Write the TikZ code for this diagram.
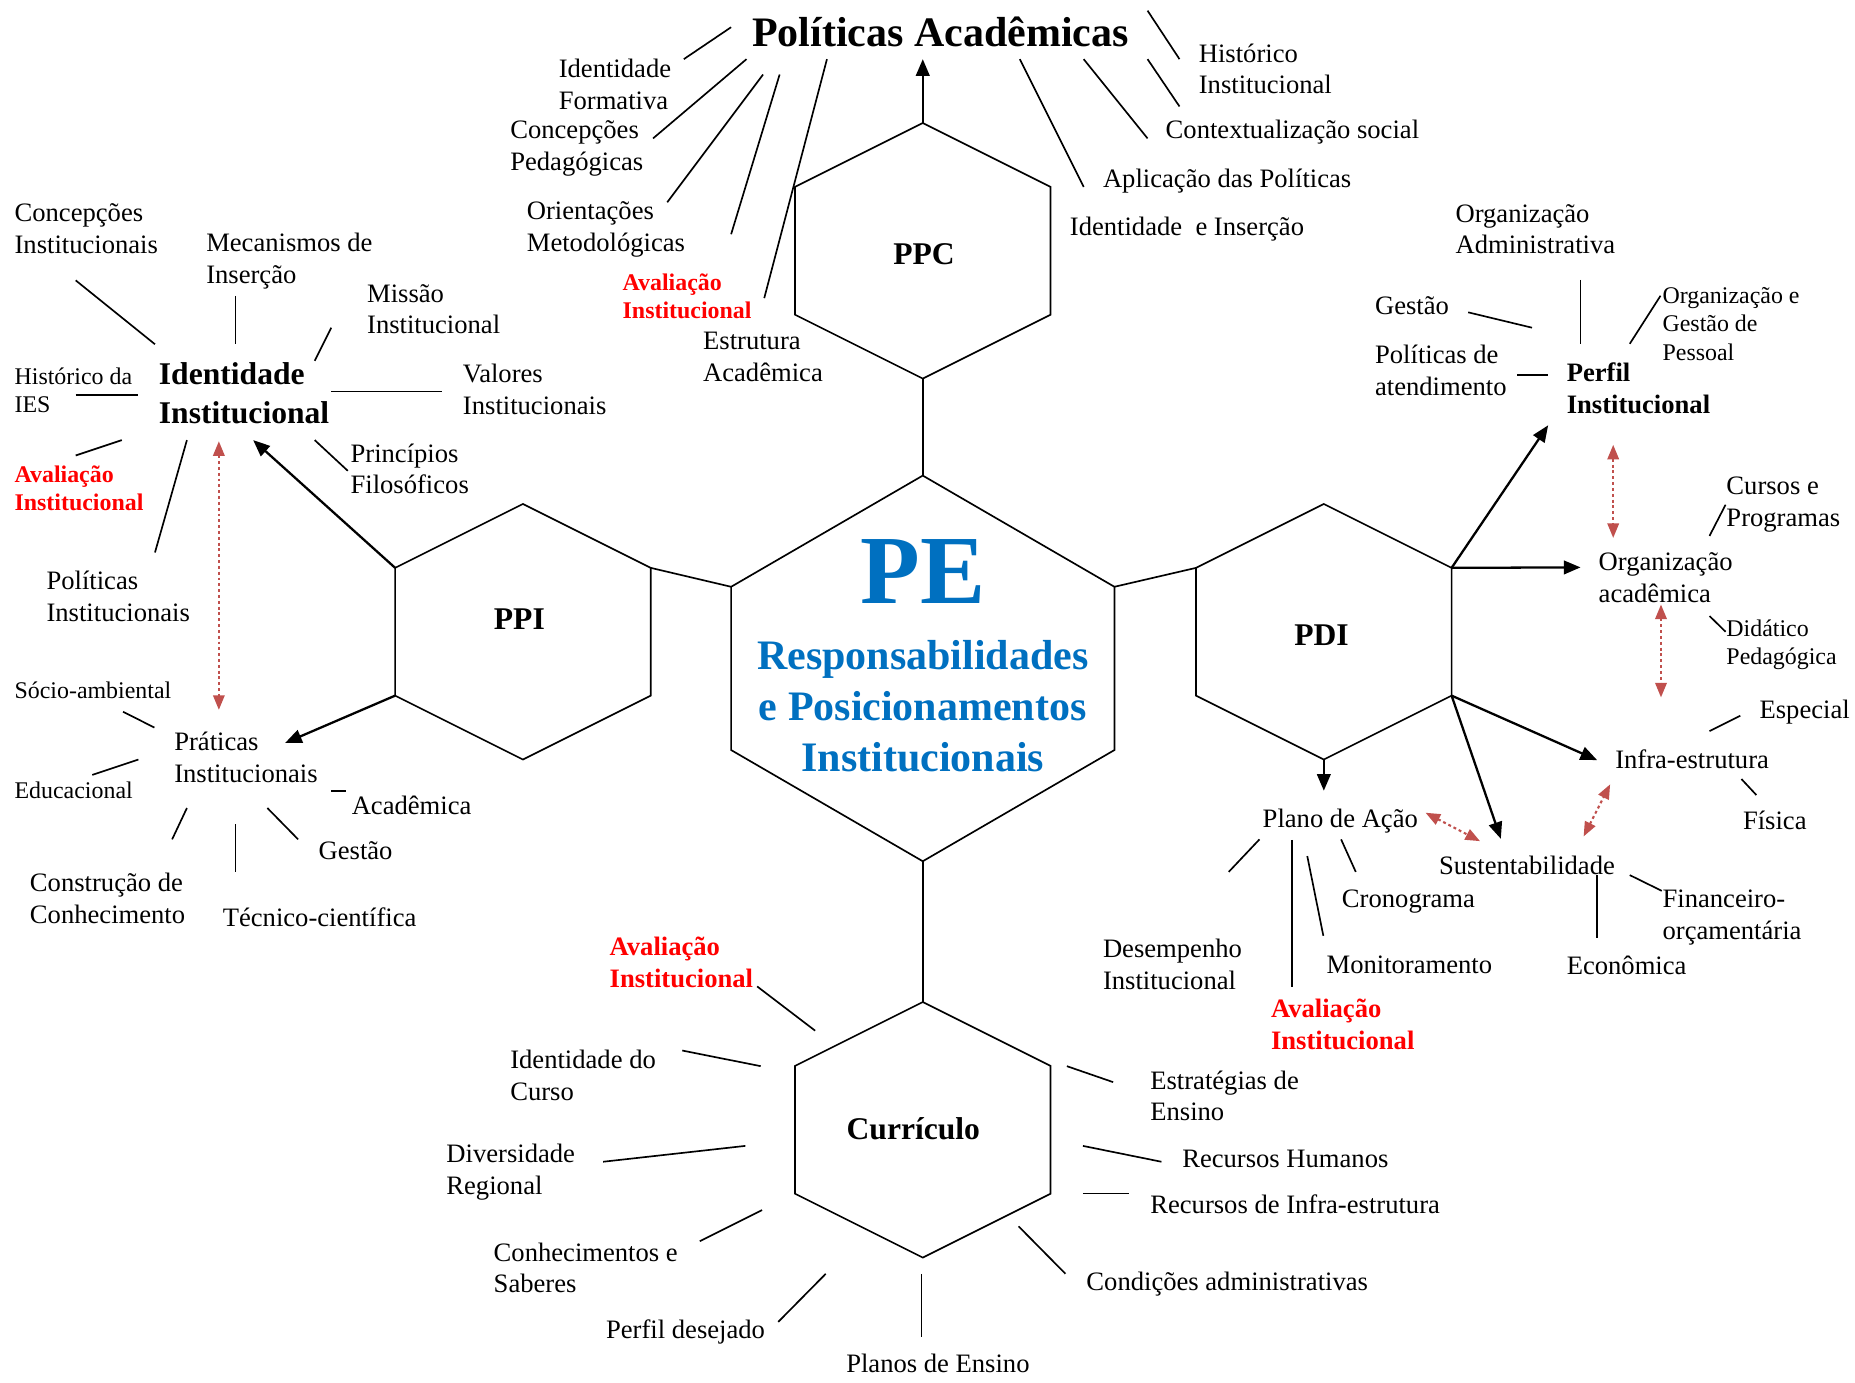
\documentclass[tikz,border=0pt]{standalone}
\usepackage{fontspec}
\setmainfont{Liberation Serif}
\usetikzlibrary{arrows.meta}
\definecolor{peblue}{RGB}{0,112,192}
\definecolor{avred}{RGB}{255,0,0}
\definecolor{linkred}{RGB}{192,80,77}

% corners of a hexagon with pointed top and bottom:
% #1 name, #2 cx, #3 cy, #4 half width, #5 half height, #6 half height of the vertical sides
\newcommand\hexcorners[6]{%
  \coordinate (#1-t)  at (#2,#3-#5);
  \coordinate (#1-ur) at (#2+#4,#3-#6);
  \coordinate (#1-lr) at (#2+#4,#3+#6);
  \coordinate (#1-b)  at (#2,#3+#5);
  \coordinate (#1-ll) at (#2-#4,#3+#6);
  \coordinate (#1-ul) at (#2-#4,#3-#6);
  \draw[hexline] (#1-t) -- (#1-ur) -- (#1-lr) -- (#1-b) -- (#1-ll) -- (#1-ul) -- cycle;
}

\tikzset{
  hexline/.style={line width=0.8pt, line join=miter},
  spoke/.style={line width=0.8pt},
  link/.style={line width=0.8pt},
  arr/.style={line width=1.1pt, -{Triangle[length=8pt,width=6.5pt]}},
  dual/.style={linkred, line width=1pt, dash pattern=on 1.4pt off 1.4pt,
    {Triangle[length=7pt,width=5.5pt]}-{Triangle[length=7pt,width=5.5pt]}},
  txt/.style={inner sep=0pt, anchor=west, align=left, yshift=-1pt, font=\fontsize{12.8}{15.3}\selectfont},
  small/.style={txt, font=\fontsize{11.5}{13.6}\selectfont},
  avsmall/.style={txt, text=avred, font=\bfseries\fontsize{11.5}{13.6}\selectfont},
  avlarge/.style={txt, text=avred, font=\bfseries\fontsize{12.8}{15.3}\selectfont},
  hexlabel/.style={inner sep=0pt, font=\bfseries\fontsize{15.2}{18}\selectfont},
}

\begin{document}
\begin{tikzpicture}[x=0.02cm, y=-0.02cm]
\useasboundingbox (0,0) rectangle (1568,1169);

% ---------- hexagons ----------
\hexcorners{pe}{780}{565}{162}{163}{69}
\hexcorners{ppc}{780}{212}{108}{108}{54}
\hexcorners{ppi}{442}{534}{108}{108}{54}
\hexcorners{pdi}{1119}{534}{108}{108}{54}
\hexcorners{cur}{780}{955}{108}{108}{54}

% links between the hexagons
\draw[link] (ppi-ur) -- (pe-ul);
\draw[link] (pe-ur) -- (pdi-ul);
\draw[link] (pe-t) -- (ppc-b);
\draw[link] (pe-b) -- (cur-t);

% ---------- centre ----------
\node[inner sep=0pt, text=peblue, font=\bfseries\fontsize{47}{50}\selectfont] (pe) at (780,483) {PE};
\node[inner sep=0pt, align=center, text=peblue, font=\bfseries\fontsize{20.2}{24.4}\selectfont] (resp) at (780,597)
  {Responsabilidades\\e Posicionamentos\\Institucionais};

\node[hexlabel] (ppc) at (781,215) {PPC};
\node[hexlabel] (ppi) at (439,523) {PPI};
\node[hexlabel] (pdi) at (1117,537) {PDI};
\node[hexlabel] (cur) at (772,954) {Currículo};

% ---------- Políticas Acadêmicas ----------
\node[inner sep=0pt, font=\bfseries\fontsize{20.2}{24}\selectfont] (polac) at (795,27) {Políticas Acadêmicas};
\coordinate (polac-in) at (780,50);
\draw[arr] (ppc-t) -- (polac-in);

\node[txt] (idform) at (472,69.5) {Identidade\\Formativa};
\node[txt] (concped) at (431,124) {Concepções\\Pedagógicas};
\node[txt] (orimet) at (445,192) {Orientações\\Metodológicas};
\node[avsmall] (avppc) at (526,248.5) {Avaliação\\Institucional};
\node[txt] (estac) at (594,300) {Estrutura\\Acadêmica};
\node[txt] (histinst) at (1013,56.5) {Histórico\\Institucional};
\node[txt] (context) at (985,110) {Contextualização social};
\node[txt] (aplic) at (932,151) {Aplicação das Políticas};
\node[txt] (idins) at (904,192) {Identidade~ e Inserção};

\draw[spoke] (578,50) -- (618,23);
\draw[spoke] (552,117) -- (631,50);
\draw[spoke] (564,171) -- (645,63);
\draw[spoke] (618,198) -- (659,63);
\draw[spoke] (646,252) -- (699,50);
\draw[spoke] (970,9) -- (997,50);
\draw[spoke] (970,50) -- (997,90);
\draw[spoke] (916,50) -- (970,117);
\draw[spoke] (862,50) -- (916,158);

% ---------- Identidade Institucional ----------
\node[txt, font=\bfseries\fontsize{15.2}{18.7}\selectfont] (idinst) at (134,331) {Identidade\\Institucional};
\node[txt] (concinst) at (12,191.5) {Concepções\\Institucionais};
\node[txt] (mecins) at (174,219) {Mecanismos de\\Inserção};
\node[txt] (missao) at (310,259.5) {Missão\\Institucional};
\node[small] (histies) at (12,328) {Histórico da\\IES};
\node[txt] (valores) at (391,327.5) {Valores\\Institucionais};
\node[avsmall] (avleft) at (12,411) {Avaliação\\Institucional};
\node[txt] (princ) at (296,394.5) {Princípios\\Filosóficos};
\node[txt] (polinst) at (39,502.5) {Políticas\\Institucionais};

\draw[spoke] (64,237) -- (131,291);
\draw[spoke] (199,250) -- (199,291);
\draw[spoke] (280,277) -- (266,305);
\draw[spoke] (280,331) -- (374,331);
\draw[spoke] (64,334) -- (117,334);
\draw[spoke] (103,372) -- (64,385);
\draw[spoke] (158,372) -- (131,467);
\draw[spoke] (266,372) -- (294,398);

\coordinate (idinst-in) at (214,372);
\draw[arr] (ppi-ul) -- (idinst-in);

% ---------- Práticas Institucionais ----------
\node[txt] (prat) at (147,638.5) {Práticas\\Institucionais};
\node[small] (socio) at (12,582) {Sócio-ambiental};
\node[small] (educ) at (12,666) {Educacional};
\node[txt] (acad) at (297,679) {Acadêmica};
\node[txt] (gestao) at (269,717) {Gestão};
\node[txt] (constr) at (25,757.5) {Construção de\\Conhecimento};
\node[txt] (tecn) at (188,773.5) {Técnico-científica};

\draw[spoke] (104,601.6) -- (130.5,615);
\draw[spoke] (117,642) -- (78,655);
\draw[spoke] (280,668.7) -- (292.5,668.7);
\draw[spoke] (158,683) -- (145.5,709.5);
\draw[spoke] (199,696.6) -- (199,737);
\draw[spoke] (226,683) -- (252,709.5);

\coordinate (prat-in) at (241,628);
\draw[arr] (ppi-ll) -- (prat-in);

\coordinate (idinst-s) at (185,373);
\coordinate (prat-n) at (185,600);
\draw[dual] (idinst-s) -- (prat-n);

% ---------- Perfil Institucional ----------
\node[txt, font=\bfseries\fontsize{12.8}{15.3}\selectfont] (perfil) at (1324,326.5) {Perfil\\Institucional};
\node[txt] (orgadm) at (1230,192) {Organização\\Administrativa};
\node[txt] (gestao2) at (1162,257) {Gestão};
\node[small] (orggp) at (1405,272) {Organização e\\Gestão de\\Pessoal};
\node[txt] (polat) at (1162,311) {Políticas de\\atendimento};

\draw[spoke] (1336,236.6) -- (1336,290.6);
\draw[spoke] (1241,264) -- (1295,277);
\draw[spoke] (1403.6,250) -- (1377.6,290.6);
\draw[spoke] (1282.6,317) -- (1308.6,317);

\coordinate (perfil-in) at (1308.6,359.5);
\draw[arr] (pdi-ur) -- (perfil-in);

% ---------- Organização acadêmica ----------
\node[txt] (orgac) at (1351,486.5) {Organização\\acadêmica};
\node[txt] (cursos) at (1459,424.5) {Cursos e\\Programas};
\node[small] (didat) at (1459,543.5) {Didático\\Pedagógica};

\draw[spoke] (1458.6,426.6) -- (1445,453);
\draw[spoke] (1445,520.7) -- (1458.6,534);

\coordinate (orgac-in) at (1336,479.6);
\draw[arr] (pdi-ur) -- (orgac-in);

\coordinate (perfil-s) at (1363.6,376);
\coordinate (orgac-n) at (1363.6,454.7);
\draw[dual] (perfil-s) -- (orgac-n);

% ---------- Infra-estrutura ----------
\node[txt] (infra) at (1365,640) {Infra-estrutura};
\node[txt] (especial) at (1487,600) {Especial};
\node[txt] (fisica) at (1473,692) {Física};

\draw[spoke] (1445,618) -- (1471,605);
\draw[spoke] (1472,658.5) -- (1484.6,672);

\coordinate (infra-in) at (1350,642.5);
\draw[arr] (pdi-lr) -- (infra-in);

\coordinate (orgac-s) at (1404,511);
\coordinate (infra-n) at (1404,589.5);
\draw[dual] (orgac-s) -- (infra-n);

% ---------- Sustentabilidade ----------
\node[txt] (sust) at (1216,730) {Sustentabilidade};
\node[txt] (financ) at (1405,773.5) {Financeiro-\\orçamentária};
\node[txt] (econ) at (1324,814) {Econômica};

\draw[spoke] (1350,739.7) -- (1350,793);
\draw[spoke] (1377.6,739.7) -- (1404.6,753);

\coordinate (sust-in) at (1268.6,709);
\draw[arr] (pdi-lr) -- (sust-in);

\coordinate (sust-ne) at (1338.6,707);
\coordinate (infra-sw) at (1361,663);
\draw[dual] (sust-ne) -- (infra-sw);

% ---------- Plano de Ação ----------
\node[txt] (plano) at (1067,692) {Plano de Ação};
\node[txt] (crono) at (1134,760) {Cronograma};
\node[txt] (monit) at (1121,814) {Monitoramento};
\node[txt] (desemp) at (932,813.5) {Desempenho\\Institucional};
\node[avlarge] (avpdi) at (1074,864) {Avaliação\\Institucional};

\draw[spoke] (1064.6,709.5) -- (1038.6,737);
\draw[spoke] (1092,710) -- (1092,834);
\draw[spoke] (1105,723.6) -- (1118.6,791);
\draw[spoke] (1133.6,709.5) -- (1146,737);

\coordinate (plano-in) at (1119,668.4);
\draw[arr] (pdi-b) -- (plano-in);

\coordinate (plano-e) at (1205,687);
\coordinate (sust-nw) at (1251,711);
\draw[dual] (plano-e) -- (sust-nw);

% ---------- Currículo ----------
\node[avlarge] (avcur) at (515,812) {Avaliação\\Institucional};
\node[txt] (idcurso) at (431,907.5) {Identidade do\\Curso};
\node[txt] (divreg) at (377,989) {Diversidade\\Regional};
\node[txt] (conhec) at (417,1070) {Conhecimentos e\\Saberes};
\node[txt] (perfdes) at (512,1124.5) {Perfil desejado};
\node[txt] (planos) at (715,1151) {Planos de Ensino};
\node[txt] (condic) at (918,1084) {Condições administrativas};
\node[txt] (recinf) at (972,1016) {Recursos de Infra-estrutura};
\node[txt] (rechum) at (999,978) {Recursos Humanos};
\node[txt] (estrat) at (972,924.5) {Estratégias de\\Ensino};

\draw[spoke] (640,833.8) -- (689,871.2);
\draw[spoke] (576.7,888) -- (643,901.2);
\draw[spoke] (509.8,982) -- (630,968.6);
\draw[spoke] (591.5,1049.2) -- (644.2,1022.8);
\draw[spoke] (657.8,1117.4) -- (698,1076.7);
\draw[spoke] (779,1076.7) -- (779,1130);
\draw[spoke] (861,1036.6) -- (900.6,1076.7);
\draw[spoke] (915.4,1008.8) -- (953.9,1008.8);
\draw[spoke] (915.4,968.6) -- (981.7,982);
\draw[spoke] (901.8,901.2) -- (940.9,914.7);
\end{tikzpicture}
\end{document}
